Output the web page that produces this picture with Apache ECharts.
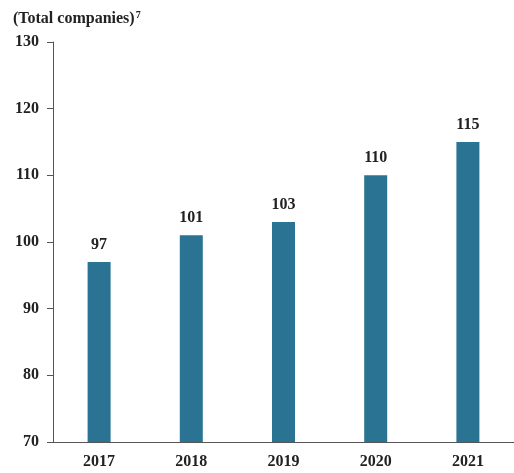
<!DOCTYPE html>
<html>
<head>
<meta charset="utf-8">
<script src="https://cdn.jsdelivr.net/npm/echarts@6/dist/echarts.min.js"></script>
<style>
  html, body { margin: 0; padding: 0; background: #fff; }
  #chart { width: 514px; height: 473px; }
</style>
</head>
<body>
<div id="chart"></div>
<script>
// Companies per year
const years = ['2017', '2018', '2019', '2020', '2021'];
const companies = [97, 101, 103, 110, 115];
const yTicks = { min: 70, max: 130, interval: 10 };

const FONT = '"Liberation Serif", "DejaVu Serif", serif';
const AXIS = '#555555';
const TEXT = '#222222';

const chart = echarts.init(document.getElementById('chart'));
chart.setOption({
  animation: false,
  title: {
    text: '{t|(Total companies)}{s|7}',
    left: 8,
    top: 5,
    textStyle: {
      rich: {
        t: { fontFamily: FONT, fontWeight: 'bold', fontSize: 16, color: TEXT },
        s: { fontFamily: FONT, fontSize: 10, color: TEXT, verticalAlign: 'top', padding: [0, 0, 7, 1] }
      }
    }
  },
  grid: { left: 53, right: -3, top: 42, bottom: 31, containLabel: false },
  xAxis: {
    type: 'category',
    data: years,
    axisLine: { lineStyle: { color: AXIS, width: 1 } },
    axisTick: {
      length: 6,
      lineStyle: { color: AXIS },
      interval: function (i) { return i > 0; }
    },
    axisLabel: { fontFamily: FONT, fontWeight: 'bold', fontSize: 16, color: TEXT, margin: 12 }
  },
  yAxis: {
    type: 'value',
    min: yTicks.min,
    max: yTicks.max,
    interval: yTicks.interval,
    axisLine: { show: true, lineStyle: { color: AXIS, width: 1 } },
    axisTick: { show: true, inside: false, length: 6, lineStyle: { color: AXIS } },
    splitLine: { show: false },
    axisLabel: { fontFamily: FONT, fontWeight: 'bold', fontSize: 16, color: TEXT, margin: 14 }
  },
  series: [{
    type: 'bar',
    data: companies,
    barWidth: 23,
    itemStyle: { color: '#2a7393' },
    label: {
      show: true,
      position: 'top',
      distance: 9,
      fontFamily: FONT,
      fontWeight: 'bold',
      fontSize: 16,
      color: TEXT
    }
  }]
});
</script>
</body>
</html>
